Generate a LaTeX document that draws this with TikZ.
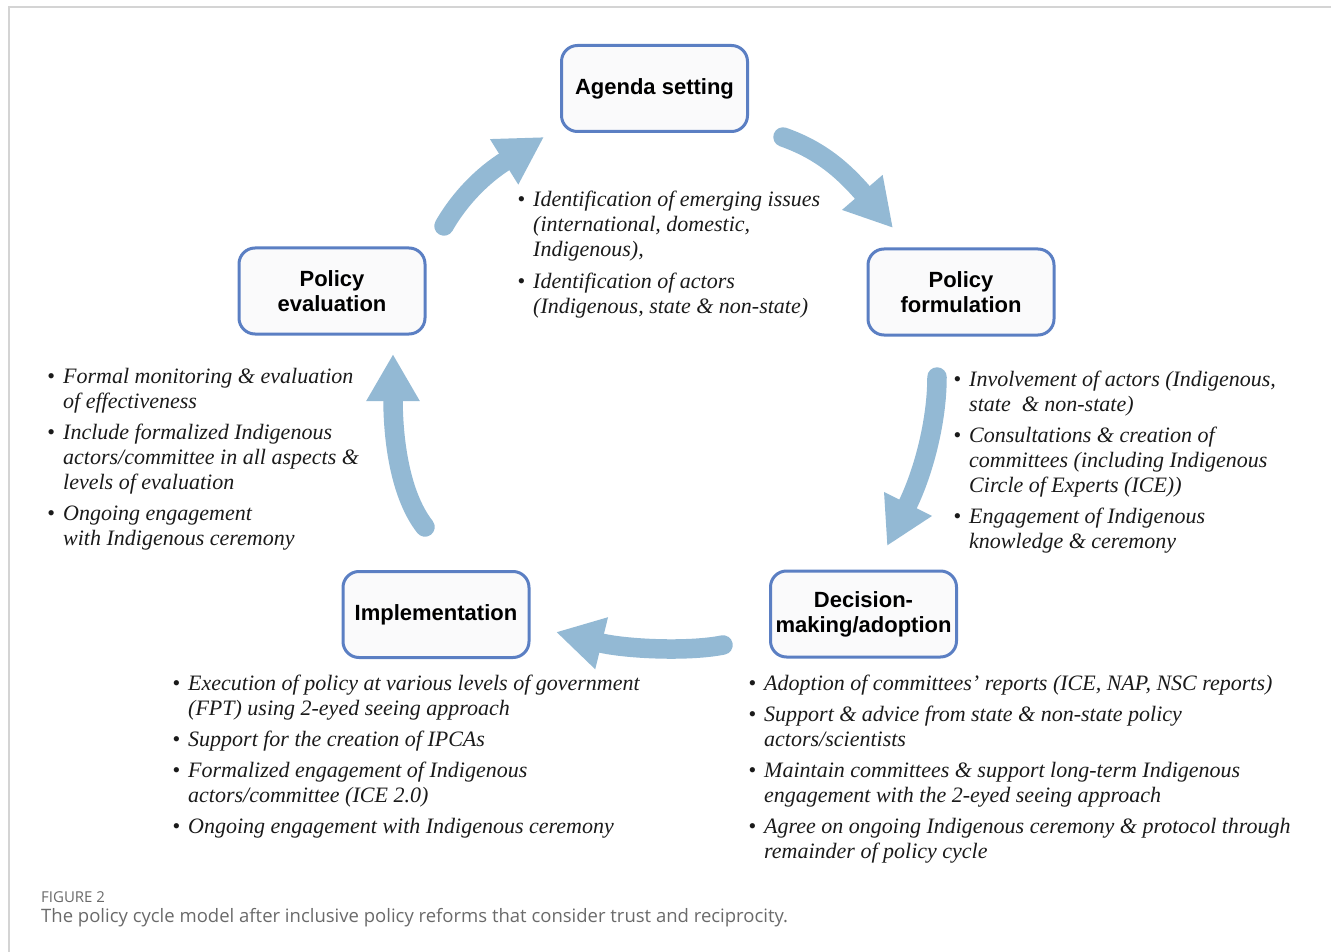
\documentclass[tikz,border=0pt]{standalone}
\usepackage{fontspec}
\setmainfont{Liberation Serif}
\newfontfamily\boxfont{Liberation Sans}
\newfontfamily\capfont{Open Sans}
\usetikzlibrary{arrows.meta}

\definecolor{stagefill}{HTML}{FAFAFB}
\definecolor{stageline}{HTML}{5B7FC3}
\definecolor{flowblue}{HTML}{93B9D4}
\definecolor{framegray}{HTML}{D4D4D4}
\definecolor{capgray}{HTML}{6A6A6A}
\definecolor{notetext}{HTML}{1A1A1A}

% bullet hanging to the left of an item's first line
\newcommand\itemdot{\llap{{\upshape\textbullet}\hspace{8pt}}}

\begin{document}
\begin{tikzpicture}[x=1pt,y=-1pt,
  stage/.style={draw=stageline, line width=3pt, fill=stagefill,
    rounded corners=16pt, minimum width=186pt, minimum height=86pt,
    align=center, inner sep=0pt,
    font=\boxfont\bfseries\fontsize{22}{25}\selectfont},
  flow/.style={draw=flowblue, line width=19.5pt, line cap=round,
    -{Triangle[length=47pt,width=50pt]}},
  notes/.style={anchor=base west, inner sep=0pt, text=notetext,
    font=\itshape\fontsize{22}{25}\selectfont},
]
\useasboundingbox (0,0) rectangle (1331,952);

% page frame (top and left rules)
\draw[framegray, line width=2pt] (9,952) -- (9,7) -- (1331,7);

% stages of the cycle
\node[stage] (agenda) at (654.5,88.5) {Agenda setting};
\node[stage] (form)   at (961,292)    {Policy\\formulation};
\node[stage] (dec)    at (863.5,614)  {Decision-\\making/adoption};
\node[stage] (impl)   at (436,614.5)  {Implementation};
\node[stage] (eval)   at (332,291)    {Policy\\evaluation};

% ends of the cycle arrows
\coordinate (a1s) at (444,226);  \coordinate (a1e) at (544,137);
\coordinate (a2s) at (783,137);  \coordinate (a2e) at (893,228);
\coordinate (a3s) at (937,377);  \coordinate (a3e) at (887,546);
\coordinate (a4s) at (723,645);  \coordinate (a4e) at (556,632);
\coordinate (a5s) at (425,527);  \coordinate (a5e) at (393,354);

\draw[flow] (a1s) .. controls (460,198) and (483,175) .. (a1e);
\draw[flow] (a2s) .. controls (820,150) and (843,170) .. (a2e);
\draw[flow] (a3s) .. controls (937,422) and (923,474) .. (a3e);
\draw[flow] (a4s) .. controls (688,652) and (625,649) .. (a4e);
\draw[flow] (a5s) .. controls (400,495) and (393,440) .. (a5e);

% notes beside each stage
\node[notes] (agendanotes) at (533,206.5) {\begin{tabular}[t]{@{}l@{}}
\itemdot Identification of emerging issues\\
(international, domestic,\\
Indigenous),\\[7pt]
\itemdot Identification of actors\\
(Indigenous, state \& non-state)
\end{tabular}};

\node[notes] (formnotes) at (969,386.5) {\begin{tabular}[t]{@{}l@{}}
\itemdot Involvement of actors (Indigenous,\\
state\ \ \& non-state)\\[6pt]
\itemdot Consultations \& creation of\\
committees (including Indigenous\\
Circle of Experts (ICE))\\[6pt]
\itemdot Engagement of Indigenous\\
knowledge \& ceremony
\end{tabular}};

\node[notes] (decnotes) at (764,690.5) {\begin{tabular}[t]{@{}l@{}}
\itemdot Adoption of committees’ reports (ICE, NAP, NSC reports)\\[6pt]
\itemdot Support \& advice from state \& non-state policy\\
actors/scientists\\[6pt]
\itemdot Maintain committees \& support long-term Indigenous\\
engagement with the 2-eyed seeing approach\\[6pt]
\itemdot Agree on ongoing Indigenous ceremony \& protocol through\\
remainder of policy cycle
\end{tabular}};

\node[notes] (implnotes) at (188,690.5) {\begin{tabular}[t]{@{}l@{}}
\itemdot Execution of policy at various levels of government\\
(FPT) using 2-eyed seeing approach\\[6pt]
\itemdot Support for the creation of IPCAs\\[6pt]
\itemdot Formalized engagement of Indigenous\\
actors/committee (ICE 2.0)\\[6pt]
\itemdot Ongoing engagement with Indigenous ceremony
\end{tabular}};

\node[notes] (evalnotes) at (63,383.5) {\begin{tabular}[t]{@{}l@{}}
\itemdot Formal monitoring \& evaluation\\
of effectiveness\\[6pt]
\itemdot Include formalized Indigenous\\
actors/committee in all aspects \&\\
levels of evaluation\\[6pt]
\itemdot Ongoing engagement\\
with Indigenous ceremony
\end{tabular}};

% caption
\node[anchor=base west, inner sep=0pt, text=capgray,
  font=\capfont\fontsize{15}{17}\selectfont] (fignum) at (41,902) {FIGURE 2};
\node[anchor=base west, inner sep=0pt, text=capgray,
  font=\capfont\fontsize{18.5}{21}\selectfont] (figcap) at (41,922)
  {The policy cycle model after inclusive policy reforms that consider trust and reciprocity.};
\end{tikzpicture}
\end{document}
